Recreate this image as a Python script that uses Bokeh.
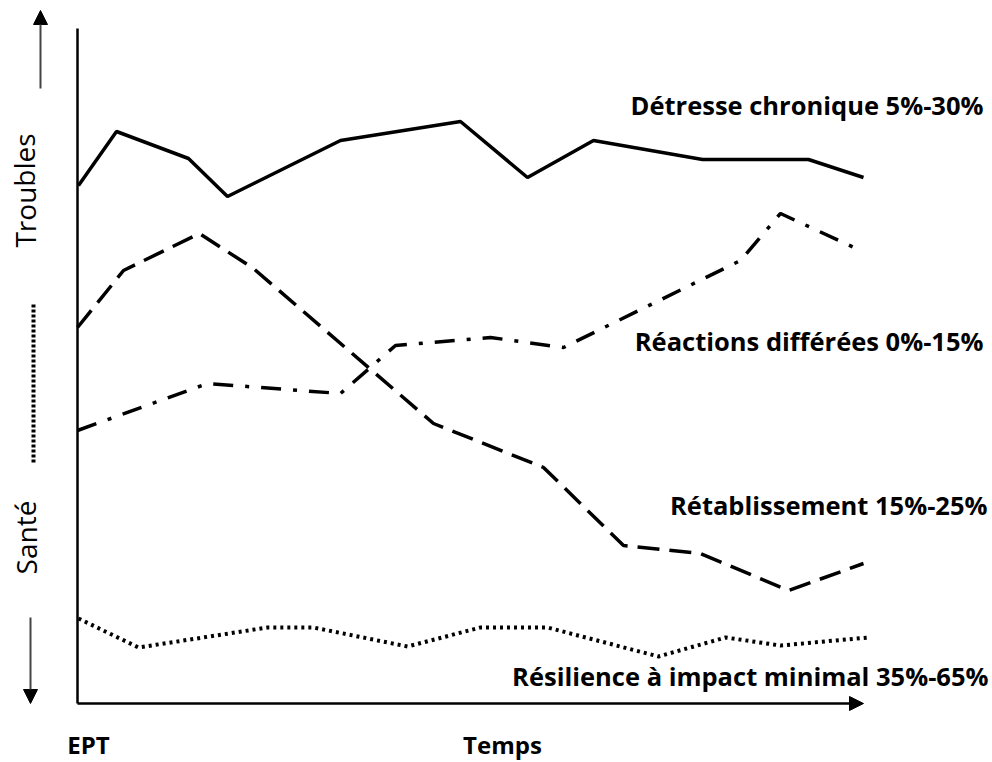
from bokeh.plotting import figure
from bokeh.models import Range1d, Arrow, NormalHead, ColumnDataSource
from bokeh.core.properties import value
from bokeh.embed import file_html
from bokeh.resources import INLINE

# ---- data (time offset from EPT, symptom level; arbitrary schematic units) ----
detresse_t = [1, 39, 111, 150, 263, 383, 450, 516, 625, 731, 786]
detresse_y = [518, 572, 545, 507, 563, 582, 526, 563, 544, 544, 526]

retab_t = [0, 46, 122, 176, 356, 466, 546, 623, 711, 786]
retab_y = [376, 433, 470, 435, 280, 236, 158, 150, 113, 140]

reac_t = [0, 130, 263, 318, 413, 486, 663, 703, 783]
reac_y = [273, 320, 310, 358, 366, 356, 443, 490, 453]

resil_t = [1, 61, 190, 236, 330, 403, 470, 581, 648, 703, 791]
resil_y = [85, 56, 76, 76, 57, 76, 76, 47, 66, 58, 66]

labels = ["Détresse chronique 5%-30%", "Réactions différées 0%-15%",
          "Rétablissement 15%-25%", "Résilience à impact minimal 35%-65%"]

FONT = value("Open Sans")

p = figure(width=992, height=762, output_backend="svg", toolbar_location=None,
           x_range=Range1d(-77, 915), y_range=Range1d(-59, 703),
           x_axis_type=None, y_axis_type=None, min_border=0)
p.grid.visible = False
p.outline_line_color = None
p.background_fill_color = "white"
p.border_fill_color = "white"

# axes
p.line([0, 0], [0, 675], line_color="black", line_width=2.5)
p.add_layout(Arrow(end=NormalHead(size=14, fill_color="black", line_color="black"),
                   x_start=0, y_start=0, x_end=786, y_end=0,
                   line_color="black", line_width=2.5))

# series
p.line(detresse_t, detresse_y, line_color="black", line_width=3.5)
p.line(retab_t, retab_y, line_color="black", line_width=3.5, line_dash="22 10")
p.line(reac_t, reac_y, line_color="black", line_width=3.5, line_dash="20 12 4 12")
p.line(resil_t, resil_y, line_color="black", line_width=4, line_dash="3 4")

# series labels
lab_src = ColumnDataSource(dict(x=[906, 906, 910, 911], y=[599, 363, 199, 28], text=labels))
p.text(x="x", y="y", text="text", source=lab_src, text_font=FONT, text_font_style="bold",
       text_font_size="25.5px", text_align="right", text_baseline="middle", text_color="black")

# axis texts
p.text(x=[11, 425], y=[-41, -41], text=["EPT", "Temps"], text_font=FONT, text_font_style="bold",
       text_font_size="24px", text_align="center", text_baseline="middle", text_color="black")
p.text(x=[-53, -52], y=[513, 166], text=["Troubles", "Santé"], angle=1.5708, text_font=FONT,
       text_font_size="28px", text_align="center", text_baseline="middle", text_color="black")

# left side arrows and separator
p.add_layout(Arrow(end=NormalHead(size=14, fill_color="black", line_color="black"),
                   x_start=-37, y_start=615, x_end=-37, y_end=693,
                   line_color="#444444", line_width=2))
p.add_layout(Arrow(end=NormalHead(size=14, fill_color="black", line_color="black"),
                   x_start=-47, y_start=86, x_end=-47, y_end=0,
                   line_color="#444444", line_width=2))
p.line([-44, -44], [241, 400], line_color="black", line_width=4, line_dash="3 2")

open("out.html", "w").write(file_html(p, INLINE))
